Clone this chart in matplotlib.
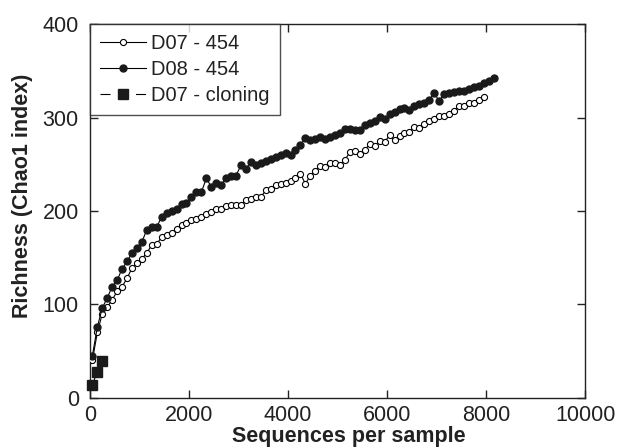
import matplotlib
matplotlib.use("Agg")
import matplotlib.pyplot as plt

plt.rcParams['font.family'] = ['Liberation Sans', 'DejaVu Sans']

# Rarefaction sample sizes (sequences per sample)
seq_d07 = [50, 150, 250, 350, 450, 550, 650, 750, 850, 950,
           1050, 1150, 1250, 1350, 1450, 1550, 1650, 1750, 1850, 1950,
           2050, 2150, 2250, 2350, 2450, 2550, 2650, 2750, 2850, 2950,
           3050, 3150, 3250, 3350, 3450, 3550, 3650, 3750, 3850, 3950,
           4050, 4150, 4250, 4350, 4450, 4550, 4650, 4750, 4850, 4950,
           5050, 5150, 5250, 5350, 5450, 5550, 5650, 5750, 5850, 5950,
           6050, 6150, 6250, 6350, 6450, 6550, 6650, 6750, 6850, 6950,
           7050, 7150, 7250, 7350, 7450, 7550, 7650, 7750, 7850, 7950]
chao_d07 = [40, 70, 90, 97, 105, 114, 119, 128, 139, 144,
            149, 155, 164, 165, 172, 174, 176, 181, 185, 187,
            190, 191, 194, 197, 199, 202, 202, 205, 206, 206,
            206, 212, 213, 215, 215, 222, 224, 228, 229, 230,
            232, 235, 240, 229, 238, 243, 248, 247, 251, 251,
            249, 255, 263, 264, 261, 265, 272, 270, 275, 274,
            281, 276, 280, 283, 285, 290, 289, 293, 296, 298,
            302, 302, 304, 307, 312, 312, 316, 316, 319, 322]

seq_d08 = seq_d07 + [8050, 8150]
chao_d08 = [45, 76, 96, 107, 119, 126, 138, 146, 155, 160,
            167, 180, 183, 183, 194, 198, 200, 202, 208, 209,
            215, 220, 220, 235, 226, 230, 228, 235, 237, 238,
            249, 245, 253, 249, 251, 254, 256, 258, 260, 262,
            260, 265, 271, 278, 276, 277, 279, 277, 279, 281,
            283, 288, 288, 287, 287, 292, 294, 296, 301, 298,
            304, 306, 309, 310, 308, 312, 315, 316, 319, 326,
            318, 325, 326, 327, 329, 329, 331, 333, 334, 337,
            339, 342]

seq_clone = [50, 150, 250]
chao_clone = [14, 28, 39]

xticks = [0, 2000, 4000, 6000, 8000, 10000]
yticks = [0, 100, 200, 300, 400]

fig = plt.figure(figsize=(6.2, 4.48), dpi=100)
ax = fig.add_axes([0.145, 0.112, 0.799, 0.834])

ax.plot(seq_d07, chao_d07, '-', color='black', lw=0.8, marker='o', ms=4.4,
        mfc='white', mec='black', mew=0.8, label='D07 - 454', zorder=3)
ax.plot(seq_d08, chao_d08, '-', color='black', lw=0.8, marker='o', ms=5.0,
        mfc='#1a1a1a', mec='#1a1a1a', label='D08 - 454', zorder=4)
ax.plot(seq_clone, chao_clone, '--', color='black', lw=0.8, marker='s', ms=7.5,
        mfc='#1a1a1a', mec='#1a1a1a', label='D07 - cloning', zorder=5,
        dashes=(9, 7), clip_on=False)

ax.set_xlim(0, 10000)
ax.set_ylim(0, 400)
ax.set_xticks(xticks)
ax.set_yticks(yticks)
ax.tick_params(direction='in', top=True, right=True, length=6, width=1,
               labelsize=15.5, colors='#222222')
ax.tick_params(axis='x', pad=5)
ax.tick_params(axis='y', pad=8)
for s in ax.spines.values():
    s.set_linewidth(1.0)
    s.set_color('#222222')

ax.set_xlabel('Sequences per sample', fontsize=15.5, fontweight='bold', color='#222222')
ax.xaxis.set_label_coords(0.523, -0.075)
ax.set_ylabel('Richness (Chao1 index)', fontsize=15.5, fontweight='bold', color='#222222')
ax.yaxis.set_label_coords(-0.115, 0.54)

leg = ax.legend(loc='upper left', fontsize=14.5, frameon=True, fancybox=False,
                edgecolor='#222222', borderaxespad=0, handlelength=2.3,
                handletextpad=0.25, labelspacing=0.35, borderpad=0.5)
leg.get_frame().set_linewidth(1.0)
for t in leg.get_texts():
    t.set_color('#222222')

fig.savefig('out.png', dpi=100)
